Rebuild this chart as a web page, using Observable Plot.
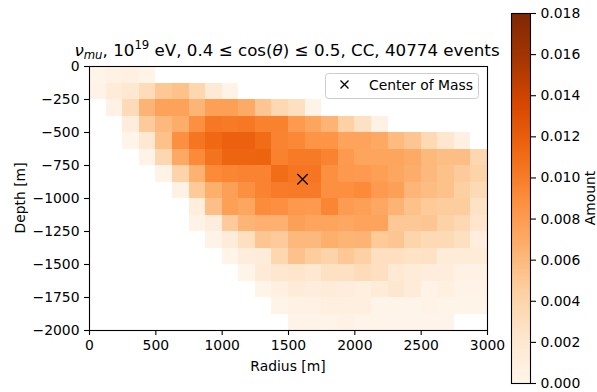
<!DOCTYPE html>
<html><head><meta charset="utf-8">
<script src="https://cdn.jsdelivr.net/npm/d3@7"></script>
<script src="https://cdn.jsdelivr.net/npm/@observablehq/plot@0.6"></script>
<style>
html,body{margin:0;padding:0;background:#fff;}
#fig{position:relative;width:597px;height:392px;overflow:hidden;font-family:"DejaVu Sans",sans-serif;}
#fig svg{position:absolute;top:0;}
</style></head>
<body><div id="fig"></div>
<script>
// bin edges (m)
const radiusEdges = [0,125,250,375,500,625,750,875,1000,1125,1250,1375,1500,1625,1750,1875,2000,2125,2250,2375,2500,2625,2750,2875,3000];
const depthEdges = [0,-125,-250,-375,-500,-625,-750,-875,-1000,-1125,-1250,-1375,-1500,-1625,-1750,-1875,-2000];
// amount per cell; one row per depth bin (top to bottom), one column per radius bin
const amountRows = [
 [.0002,.0005,.0008,.0002,0,0,0,0,0,0,0,0,0,0,0,0,0,0,0,0,0,0,0,0],
 [.0003,.0014,.0020,.0033,.0050,.0055,.0038,.0018,.0003,0,0,0,0,0,0,0,0,0,0,0,0,0,0,0],
 [0,.0006,.0034,.0064,.0076,.0076,.0063,.0078,.0078,.0070,.0052,.0037,.0029,.0004,0,0,0,0,0,0,0,0,0,0],
 [0,0,.0012,.0048,.0060,.0068,.0088,.0103,.0102,.0103,.0097,.0097,.0081,.0074,.0064,.0044,.0028,.0006,0,0,0,0,0,0],
 [0,0,.0002,.0020,.0055,.0088,.0105,.0113,.0118,.0118,.0111,.0096,.0093,.0085,.0085,.0075,.0075,.0071,.0059,.0052,.0036,.0022,.0007,0],
 [0,0,0,.0003,.0038,.0071,.0092,.0106,.0115,.0115,.0116,.0097,.0102,.0102,.0096,.0081,.0074,.0074,.0074,.0070,.0061,.0057,.0057,.0038],
 [0,0,0,0,.0003,.0041,.0065,.0092,.0095,.0096,.0096,.0110,.0105,.0105,.0088,.0082,.0081,.0078,.0073,.0068,.0060,.0055,.0048,.0042],
 [0,0,0,0,0,.0006,.0049,.0067,.0077,.0088,.0096,.0101,.0102,.0102,.0088,.0088,.0092,.0081,.0077,.0062,.0058,.0055,.0045,.0035],
 [0,0,0,0,0,0,.0010,.0056,.0078,.0073,.0091,.0088,.0082,.0081,.0095,.0080,.0078,.0072,.0064,.0055,.0049,.0047,.0047,.0027],
 [0,0,0,0,0,0,.0003,.0012,.0048,.0063,.0066,.0066,.0077,.0074,.0074,.0072,.0075,.0075,.0050,.0050,.0052,.0043,.0037,.0024],
 [0,0,0,0,0,0,0,.0003,.0013,.0029,.0052,.0048,.0060,.0060,.0067,.0063,.0064,.0049,.0052,.0040,.0036,.0035,.0030,.0010],
 [0,0,0,0,0,0,0,0,.0002,.0012,.0013,.0038,.0054,.0047,.0041,.0050,.0044,.0029,.0029,.0026,.0027,.0014,.0014,.0015],
 [0,0,0,0,0,0,0,0,0,.0002,.0016,.0022,.0024,.0020,.0028,.0028,.0033,.0029,.0018,.0015,.0012,.0012,.0006,.0006],
 [0,0,0,0,0,0,0,0,0,0,.0002,.0008,.0015,.0012,.0015,.0012,.0009,.0014,.0021,.0014,.0004,.0007,.0004,.0003],
 [0,0,0,0,0,0,0,0,0,0,0,.0002,.0006,.0006,.0009,.0009,.0009,.0002,.0002,.0002,.0004,.0002,.0002,.0002],
 [0,0,0,0,0,0,0,0,0,0,0,0,.0004,.0004,.0002,.0005,.0002,.0002,.0001,.0001,.0001,.0001,0,0]
];
const centerRadius = [1606];
const centerDepth = [-854];
const xTicks = [0,500,1000,1500,2000,2500,3000];
const yTicks = [0,-250,-500,-750,-1000,-1250,-1500,-1750,-2000];
const barTicks = [0,0.002,0.004,0.006,0.008,0.010,0.012,0.014,0.016,0.018];
const amountDomain = [0,0.018];
const orangesStops = ["#fff5eb","#fee6ce","#fdd0a2","#fdae6b","#fd8d3c","#f16913","#d94801","#a63603","#7f2704"];

const cells = [];
amountRows.forEach((row, r) => row.forEach((v, c) => {
  if (v > 0) cells.push({x1: radiusEdges[c], x2: radiusEdges[c + 1], y1: depthEdges[r + 1], y2: depthEdges[r], amount: v});
}));
const centers = centerRadius.map((x, i) => ({x, y: centerDepth[i]}));

const stopDomain = orangesStops.map((_, i) => amountDomain[0] + (amountDomain[1] - amountDomain[0]) * i / (orangesStops.length - 1));
const colorOpts = {type: "linear", domain: stopDomain, range: orangesStops, interpolate: "rgb", clamp: true};
const fmt = d3.format("d");

const main = Plot.plot({
  width: 500, height: 392,
  marginLeft: 89, marginRight: 13, marginTop: 66, marginBottom: 62,
  style: {fontFamily: "DejaVu Sans", fontSize: "13.9px", color: "black", background: "transparent", overflow: "visible"},
  x: {domain: [0, 3000]},
  y: {domain: [-2000, 0]},
  color: colorOpts,
  marks: [
    Plot.rect(cells, {x1: "x1", x2: "x2", y1: "y1", y2: "y2", fill: "amount", shapeRendering: "crispEdges"}),
    Plot.frame({stroke: "black", strokeWidth: 1.1}),
    Plot.dot(centers, {x: "x", y: "y", symbol: "times", r: 4.8, stroke: "black", strokeWidth: 1.3}),
    Plot.axisX({ticks: xTicks, tickFormat: fmt, tickSize: 5, tickPadding: 5, label: null, strokeWidth: 1.1}),
    Plot.axisY({ticks: yTicks, tickFormat: fmt, tickSize: 5, tickPadding: 5, label: null, strokeWidth: 1.1})
  ]
});
main.style.left = "0px";

const bar = Plot.plot({
  width: 107, height: 392,
  marginLeft: 21, marginRight: 67, marginTop: 13, marginBottom: 9,
  style: {fontFamily: "DejaVu Sans", fontSize: "13.9px", color: "black", background: "transparent", overflow: "visible"},
  x: {domain: [0, 1], axis: null},
  y: {domain: amountDomain},
  color: colorOpts,
  marks: [
    Plot.raster({x1: 0, x2: 1, y1: amountDomain[1], y2: amountDomain[0], width: 1, height: 370, fill: (x, y) => y}),
    Plot.frame({stroke: "black", strokeWidth: 1.1}),
    Plot.axisY({anchor: "right", ticks: barTicks, tickFormat: d3.format(".3f"), tickSize: 5, tickPadding: 5, label: null, strokeWidth: 1.1})
  ]
});
bar.style.left = "490px";

const fig = document.getElementById("fig");
fig.appendChild(main);
fig.appendChild(bar);

// overlay text: title, axis labels, colorbar label, legend
const ov = d3.select(fig).append("svg").attr("width", 597).attr("height", 392)
  .style("left", "0px").style("pointer-events", "none")
  .attr("font-family", "DejaVu Sans").attr("fill", "black");

const t = ov.append("text").attr("x", 287).attr("y", 55.5).attr("text-anchor", "middle").attr("font-size", 16.7);
t.append("tspan").attr("font-style", "italic").text("ν");
t.append("tspan").attr("font-style", "italic").attr("font-size", 11.7).attr("dy", 3).text("mu");
t.append("tspan").attr("dy", -3).text(", 10");
t.append("tspan").attr("font-size", 11.7).attr("dy", -6.5).text("19");
t.append("tspan").attr("dy", 6.5).text(" eV, 0.4 ≤ cos(");
t.append("tspan").attr("font-style", "italic").text("θ");
t.append("tspan").text(") ≤ 0.5, CC, 40774 events");

ov.append("text").attr("x", 288).attr("y", 371).attr("text-anchor", "middle").attr("font-size", 13.9).text("Radius [m]");
ov.append("text").attr("transform", "translate(25,198) rotate(-90)").attr("text-anchor", "middle").attr("font-size", 13.9).text("Depth [m]");
ov.append("text").attr("transform", "translate(595,198) rotate(-90)").attr("text-anchor", "middle").attr("font-size", 13.9).text("Amount");

ov.append("rect").attr("x", 325.5).attr("y", 73.5).attr("width", 153).attr("height", 25).attr("rx", 3)
  .attr("fill", "white").attr("fill-opacity", 0.8).attr("stroke", "#cccccc");
ov.append("path").attr("d", "M340.5,80.5L348.5,88.5M348.5,80.5L340.5,88.5").attr("stroke", "black").attr("stroke-width", 1.3).attr("fill", "none");
ov.append("text").attr("x", 369).attr("y", 90).attr("font-size", 13.9).text("Center of Mass");
</script>
</body></html>
